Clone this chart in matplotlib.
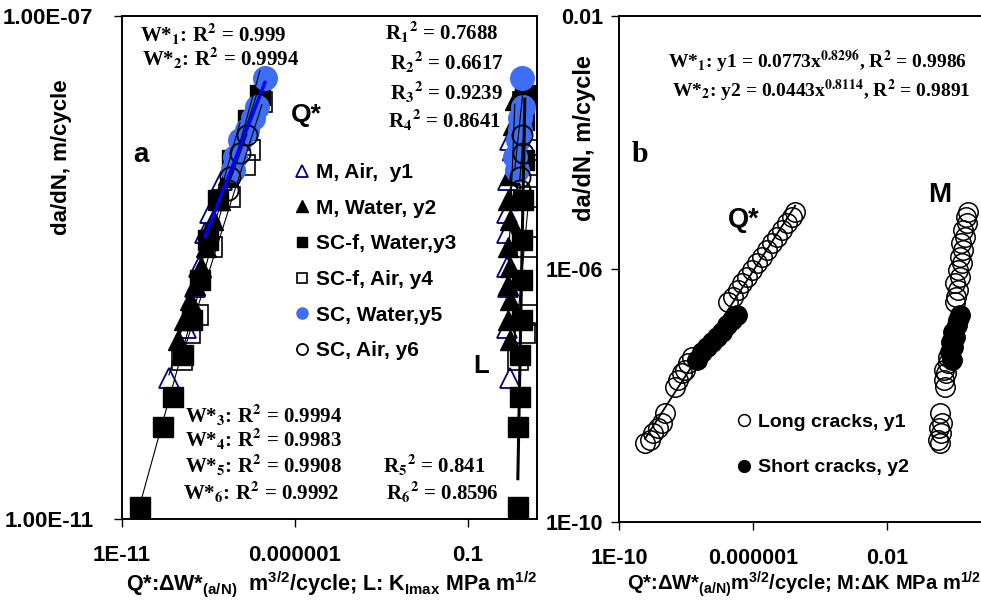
import numpy as np
import matplotlib.pyplot as plt
from matplotlib.lines import Line2D
from matplotlib.ticker import NullLocator

plt.rcParams['font.family'] = ['Liberation Sans', 'DejaVu Sans']
plt.rcParams['font.weight'] = 'bold'
plt.rcParams['mathtext.fontset'] = 'custom'
plt.rcParams['mathtext.rm'] = 'Liberation Sans:bold'
plt.rcParams['mathtext.it'] = 'Liberation Sans:italic:bold'
plt.rcParams['mathtext.bf'] = 'Liberation Sans:bold'

# ---- panel a: da/dN against dW* (Q*) and Kmax (L) ----
y1_dadn = [1.32e-10, 3.30e-10, 7.0e-10, 1.01e-9, 1.88e-9, 2.71e-9, 4.97e-9, 1.03e-8]
y1_W = [2.28e-10, 7.08e-10, 1.29e-9, 1.68e-9, 2.51e-9, 3.49e-9, 7.76e-9, 2.57e-8]
y1_K = [1.64, 1.34, 1.43, 1.34, 1.34, 1.34, 1.43, 1.64]

y2_dadn = [2.65e-10, 3.83e-10, 5.52e-10, 7.26e-10, 1.01e-9, 1.46e-9, 2.39e-9, 3.44e-9,
           5.44e-9, 8.6e-9, 1.36e-8, 2.15e-8]
y2_W = [4.15e-10, 6.19e-10, 9.23e-10, 1.29e-9, 1.92e-9, 2.68e-9, 4.27e-9, 6.80e-9,
        1.16e-8, 2.25e-8, 4.38e-8, 8.53e-8]
y2_K = [1.64, 1.43, 1.64, 1.43, 1.64, 1.43, 1.64, 1.43, 1.64, 1.87, 2.0, 2.28]

y3_dadn = [1.245e-11, 5.39e-11, 9.33e-11, 2.01e-10, 3.83e-10, 7.96e-10, 1.66e-9, 3.44e-9,
           7.16e-9, 1.49e-8, 2.35e-8]
y3_W = [3.31e-11, 1.53e-10, 2.98e-10, 5.79e-10, 1.05e-9, 1.80e-9, 3.06e-9, 5.95e-9,
        1.51e-8, 4.38e-8, 9.73e-8]
y3_K = [2.79, 2.79, 3.18, 3.18, 3.64, 3.64, 3.64, 3.89, 4.15, 4.15, 4.44]

y4_dadn = [1.84e-10, 3.01e-10, 4.19e-10, 1.46e-9, 3.64e-9, 6.53e-9, 8.6e-9, 2.07e-8]
y4_W = [5.42e-10, 9.23e-10, 1.57e-9, 3.99e-9, 1.32e-8, 3.59e-8, 5.0e-8, 1.11e-7]
y4_K = [2.79, 4.44, 5.07, 5.07, 6.19, 5.42, 5.42, 3.89]

y5_dadn = [5.96e-9, 7.57e-9, 1.03e-8, 1.24e-8, 1.55e-8, 1.89e-8, 3.21e-8]
y5_W = [1.61e-8, 1.85e-8, 2.57e-8, 4.10e-8, 6.11e-8, 7.98e-8, 1.36e-7]
y5_K = [2.61, 2.28, 2.79, 3.18, 3.18, 3.89, 3.64]

y6_dadn = [4.13e-9, 5.25e-9, 8.15e-9, 1.13e-8]
y6_W = [1.16e-8, 1.32e-8, 2.57e-8, 4.10e-8]
y6_K = [3.18, 3.18, 3.89, 3.64]

labels_a = ['M, Air,  y1', 'M, Water, y2', 'SC-f, Water,y3', 'SC-f, Air, y4',
            'SC, Water,y5', 'SC, Air, y6']

# ---- panel b: long and short cracks ----
long_dadn = [1.77e-9, 1.98e-9, 2.55e-9, 3.06e-9, 3.67e-9, 5.29e-9, 1.36e-8, 1.76e-8,
             2.27e-8, 2.53e-8, 3.27e-8, 4.06e-8, 3.01e-7, 3.61e-7, 4.66e-7, 6.01e-7,
             7.48e-7, 9.65e-7, 1.25e-6, 1.55e-6, 2.00e-6, 2.58e-6, 3.21e-6, 4.14e-6,
             5.34e-6, 6.64e-6, 7.96e-6]
long_W = [5.97e-10, 8.41e-10, 1.04e-9, 1.46e-9, 1.92e-9, 2.36e-9, 4.69e-9, 5.77e-9,
          7.60e-9, 9.33e-9, 1.15e-8, 1.51e-8, 1.80e-7, 2.53e-7, 3.56e-7, 4.69e-7,
          6.62e-7, 9.33e-7, 1.32e-6, 1.86e-6, 2.62e-6, 3.69e-6, 5.20e-6, 7.34e-6,
          1.04e-5, 1.46e-5, 1.79e-5]
long_dK = [0.382, 0.333, 0.409, 0.356, 0.438, 0.382, 0.538, 0.502, 0.577, 0.502, 0.662,
           0.662, 1.07, 1.15, 1.32, 1.07, 1.51, 1.32, 1.73, 1.51, 1.86, 1.62, 2.13, 1.86,
           2.44, 2.28, 2.62]

short_dadn = [3.64e-8, 4.87e-8, 5.85e-8, 7.02e-8, 8.41e-8, 1.01e-7, 1.30e-7, 1.56e-7, 1.88e-7]
short_W = [2.13e-8, 3.01e-8, 4.24e-8, 5.97e-8, 8.41e-8, 1.19e-7, 1.68e-7, 2.36e-7, 3.33e-7]
short_dK = [0.871, 0.760, 0.933, 0.813, 1.07, 0.933, 1.23, 1.32, 1.51]

labels_b = ['Long cracks, y1', 'Short cracks, y2']

W_PX, H_PX = 981, 607
BLUE_BACKCAST = 0.8  # decades, trendline forecast backward


def fx(x):
    return x / W_PX


def fy(y):
    return 1 - y / H_PX


def put(x, y, s, **kw):
    fig.text(fx(x), fy(y), s, **kw)


def trend(ax, x, y, back=0.0, **kw):
    lx, ly = np.log10(x), np.log10(y)
    slope, icpt = np.polyfit(lx, ly, 1)
    xs = np.array([lx.min() - back, lx.max()])
    ax.plot(10 ** xs, 10 ** (icpt + slope * xs), **kw)


fig = plt.figure(figsize=(9.81, 6.07), dpi=100)
axL = fig.add_axes([fx(122), fy(519), fx(537) - fx(122), fy(16) - fy(519)])
axR = fig.add_axes([fx(619), fy(522), fx(988) - fx(619), fy(16) - fy(522)])

styles = [
    dict(marker='^', ms=14, mfc='none', mec='#000080', mew=1.3),
    dict(marker='^', ms=14, mfc='black', mec='black'),
    dict(marker='s', ms=14.5, mfc='black', mec='black'),
    dict(marker='s', ms=14, mfc='none', mec='black', mew=1.2),
    dict(marker='o', ms=17, mfc='#3D6EF5', mec='#3D6EF5'),
    dict(marker='o', ms=14.5, mfc='none', mec='black', mew=1.3),
]
series_a = [(y1_dadn, y1_W, y1_K), (y2_dadn, y2_W, y2_K), (y3_dadn, y3_W, y3_K),
            (y4_dadn, y4_W, y4_K), (y5_dadn, y5_W, y5_K), (y6_dadn, y6_W, y6_K)]

for (d, w, k), st in zip(series_a, styles):
    axL.plot(w, d, ls='none', **st)
    axL.plot(k, d, ls='none', **st)

for i, (d, w, k) in enumerate(series_a):
    if i == 4:
        trend(axL, w, d, back=BLUE_BACKCAST, color='#0000FF', lw=2.4, zorder=5)
    else:
        trend(axL, w, d, color='black', lw=0.8, zorder=5)
    trend(axL, k, d, color='black', lw=2.2 if i == 2 else 0.8, zorder=5)

# legend a
proxies = []
for st in styles:
    p = dict(st)
    p['ms'] = 8 if p['marker'] != 's' else 7.5
    proxies.append(Line2D([], [], ls='none', **p))
fig.legend(proxies, labels_a, loc='upper left', bbox_to_anchor=(fx(294), fy(163)),
           frameon=False, fontsize=15, handlelength=0.8, handletextpad=0.25,
           labelspacing=0.8, borderpad=0, borderaxespad=0)

# panel b
circ = dict(ls='none', marker='o', ms=14, mec='black')
axR.plot(long_W, long_dadn, mfc='none', mew=1.1, **circ)
axR.plot(long_dK, long_dadn, mfc='none', mew=1.1, **circ)
axR.plot(short_W, short_dadn, mfc='black', **circ)
axR.plot(short_dK, short_dadn, mfc='black', **circ)
trend(axR, long_W, long_dadn, color='black', lw=1.3, zorder=5)
trend(axR, short_W, short_dadn, color='black', lw=1.0, zorder=5)

proxies_b = [Line2D([], [], ls='none', marker='o', ms=8.5, mfc='none', mec='black', mew=1.1),
             Line2D([], [], ls='none', marker='o', ms=8.5, mfc='black', mec='black')]
fig.legend(proxies_b, labels_b, loc='upper left', bbox_to_anchor=(fx(736), fy(413)),
           frameon=False, fontsize=14, handlelength=0.8, handletextpad=0.35,
           labelspacing=1.45, borderpad=0, borderaxespad=0)

# axes formatting
for ax in (axL, axR):
    ax.set_xscale('log')
    ax.set_yscale('log')
    ax.xaxis.set_minor_locator(NullLocator())
    ax.yaxis.set_minor_locator(NullLocator())
    for sp in ax.spines.values():
        sp.set_linewidth(1.4)
    ax.tick_params(which='major', direction='out', length=5.5, width=1.0)

axL.set_xlim(1e-11, 10)
axL.set_ylim(1e-11, 1e-7)
axL.set_xticks([1e-11, 1e-6, 0.1])
axL.set_xticklabels(['1E-11', '0.000001', '0.1'], fontsize=16, fontweight='bold')
axL.set_yticks([1e-11, 1e-7])
axL.set_yticklabels(['1.00E-11', '1.00E-07'], fontsize=16, fontweight='bold')
axL.tick_params(axis='y', pad=15)
axL.tick_params(axis='x', pad=13)

axR.set_xlim(1e-10, 10)
axR.set_ylim(1e-10, 1e-2)
axR.set_xticks([1e-10, 1e-6, 0.01])
axR.set_xticklabels(['1E-10', '0.000001', '0.01'], fontsize=15.5, fontweight='bold')
axR.set_yticks([1e-10, 1e-6, 0.01])
axR.set_yticklabels(['1E-10', '1E-06', '0.01'], fontsize=15.5, fontweight='bold')
axR.tick_params(axis='y', pad=6)
axR.tick_params(axis='x', pad=13)

# axis titles
put(62, 157, 'da/dN, m/cycle', rotation=90, ha='center', va='center', fontsize=16)
put(584, 138, 'da/dN, m/cycle', rotation=90, ha='center', va='center', fontsize=17)
put(332, 590, r'Q*:ΔW*$_{\mathrm{(a/N)}}$  m$^{\mathrm{3/2}}$/cycle; L: K$_{\mathrm{Imax}}$ MPa m$^{\mathrm{1/2}}$',
    ha='center', va='baseline', fontsize=15.5)
put(804, 590, r'Q*:ΔW*$_{\mathrm{(a/N)}}$m$^{\mathrm{3/2}}$/cycle; M:ΔK MPa m$^{\mathrm{1/2}}$',
    ha='center', va='baseline', fontsize=14.5)

# annotations
tms = dict(family='Liberation Serif', weight='bold', math_fontfamily='stix',
           ha='left', va='baseline')
put(140, 42, r'W*$_\mathbf{1}$: R$^\mathbf{2}$ = 0.999', fontsize=15, **tms)
put(142, 66, r'W*$_\mathbf{2}$: R$^\mathbf{2}$ = 0.9994', fontsize=15, **tms)
put(385, 40, r'R$_\mathbf{1}{}^\mathbf{2}$ = 0.7688', fontsize=15, **tms)
put(390, 70, r'R$_\mathbf{2}{}^\mathbf{2}$ = 0.6617', fontsize=15, **tms)
put(390, 100, r'R$_\mathbf{3}{}^\mathbf{2}$ = 0.9239', fontsize=15, **tms)
put(388, 128, r'R$_\mathbf{4}{}^\mathbf{2}$ = 0.8641', fontsize=15, **tms)
put(185, 423, r'W*$_\mathbf{3}$: R$^\mathbf{2}$ = 0.9994', fontsize=15, **tms)
put(185, 447, r'W*$_\mathbf{4}$: R$^\mathbf{2}$ = 0.9983', fontsize=15, **tms)
put(185, 473, r'W*$_\mathbf{5}$: R$^\mathbf{2}$ = 0.9908', fontsize=15, **tms)
put(183, 500, r'W*$_\mathbf{6}$: R$^\mathbf{2}$ = 0.9992', fontsize=15, **tms)
put(383, 473, r'R$_\mathbf{5}{}^\mathbf{2}$ = 0.841', fontsize=15, **tms)
put(386, 500, r'R$_\mathbf{6}{}^\mathbf{2}$ = 0.8596', fontsize=15, **tms)

put(668, 68, r'W*$_\mathbf{1}$: y1 = 0.0773x$^\mathbf{0.8296}$, R$^\mathbf{2}$ = 0.9986', fontsize=14, **tms)
put(672, 97, r'W*$_\mathbf{2}$: y2 = 0.0443x$^\mathbf{0.8114}$, R$^\mathbf{2}$ = 0.9891', fontsize=14, **tms)
put(632, 162, 'b', fontsize=21.5, **tms)

put(291, 122, 'Q*', ha='left', va='baseline', fontsize=19)
put(133, 162, 'a', ha='left', va='baseline', fontsize=20)
put(473, 373, 'L', ha='left', va='baseline', fontsize=18.5)
put(728, 227, 'Q*', ha='left', va='baseline', fontsize=19.5)
put(928, 202, 'M', ha='left', va='baseline', fontsize=20)

fig.savefig('out.png', dpi=100)
